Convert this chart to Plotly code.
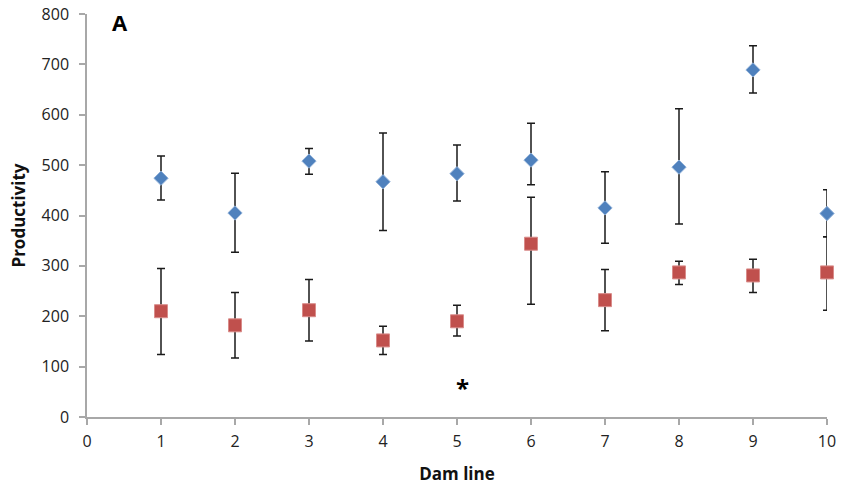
import plotly.graph_objects as go

# Dam lines on the x axis
dam_lines = [1, 2, 3, 4, 5, 6, 7, 8, 9, 10]

# Blue series (diamonds): means and error extents
blue_mean = [474, 405, 508, 467, 483, 510, 415, 496, 689, 404]
blue_err_up = [44, 79, 25, 97, 57, 73, 72, 116, 48, 47]
blue_err_down = [43, 78, 26, 97, 54, 49, 70, 113, 46, 46]

# Red series (squares): means and error extents
red_mean = [210, 182, 212, 152, 190, 344, 232, 287, 281, 287]
red_err_up = [85, 65, 61, 28, 32, 92, 61, 22, 32, 71]
red_err_down = [86, 65, 61, 28, 29, 120, 61, 24, 34, 75]

y_ticks = [0, 100, 200, 300, 400, 500, 600, 700, 800]
x_ticks = [0, 1, 2, 3, 4, 5, 6, 7, 8, 9, 10]

FONT = "Open Sans"
AXIS_GREY = "#A8A8A8"
ERR_COLOR = "#1a1a1a"

fig = go.Figure()

fig.add_trace(go.Scatter(
    x=dam_lines, y=red_mean, mode="markers",
    marker=dict(symbol="square", size=13, color="#C0504D",
                line=dict(color="#D98C8A", width=1)),
    error_y=dict(type="data", symmetric=False, array=red_err_up,
                 arrayminus=red_err_down, color=ERR_COLOR, thickness=1.5, width=4),
    cliponaxis=False, showlegend=False,
))

fig.add_trace(go.Scatter(
    x=dam_lines, y=blue_mean, mode="markers",
    marker=dict(symbol="diamond", size=11, color="#4F81BD",
                line=dict(color="#8FB0D8", width=1)),
    error_y=dict(type="data", symmetric=False, array=blue_err_up,
                 arrayminus=blue_err_down, color=ERR_COLOR, thickness=1.5, width=4),
    cliponaxis=False, showlegend=False,
))

fig.add_annotation(x=0.45, y=784, xref="x", yref="y", text="<b>A</b>",
                   showarrow=False, font=dict(family=FONT, size=22, color="#000"))
fig.add_annotation(x=5.08, y=58, xref="x", yref="y", text="<b>*</b>",
                   showarrow=False, font=dict(family=FONT, size=24, color="#000"))

fig.update_layout(
    width=842, height=491,
    margin=dict(l=87, r=15, t=14, b=74),
    paper_bgcolor="white", plot_bgcolor="white",
    font=dict(family=FONT, size=16, color="#222"),
    xaxis=dict(
        range=[0, 10], tickvals=x_ticks, ticktext=[str(v) for v in x_ticks],
        showgrid=False, zeroline=False, showline=True, linecolor=AXIS_GREY,
        linewidth=1.5, ticks="outside", ticklen=6, tickcolor=AXIS_GREY,
        tickwidth=1.5, automargin=False, ticklabelstandoff=3,
        title=dict(text="<b>Dam line</b>", font=dict(family=FONT, size=17, color="#111"),
                   standoff=17),
    ),
    yaxis=dict(
        range=[0, 800], tickvals=y_ticks, ticktext=[str(v) for v in y_ticks],
        showgrid=False, zeroline=False, showline=True, linecolor=AXIS_GREY,
        linewidth=1.5, ticks="outside", ticklen=6, tickcolor=AXIS_GREY,
        tickwidth=1.5, ticklabelstandoff=7, automargin=False,
        title=dict(text="<b>Productivity</b>", font=dict(family=FONT, size=17, color="#111"),
                   standoff=12),
    ),
)

fig.write_html("out.html")
